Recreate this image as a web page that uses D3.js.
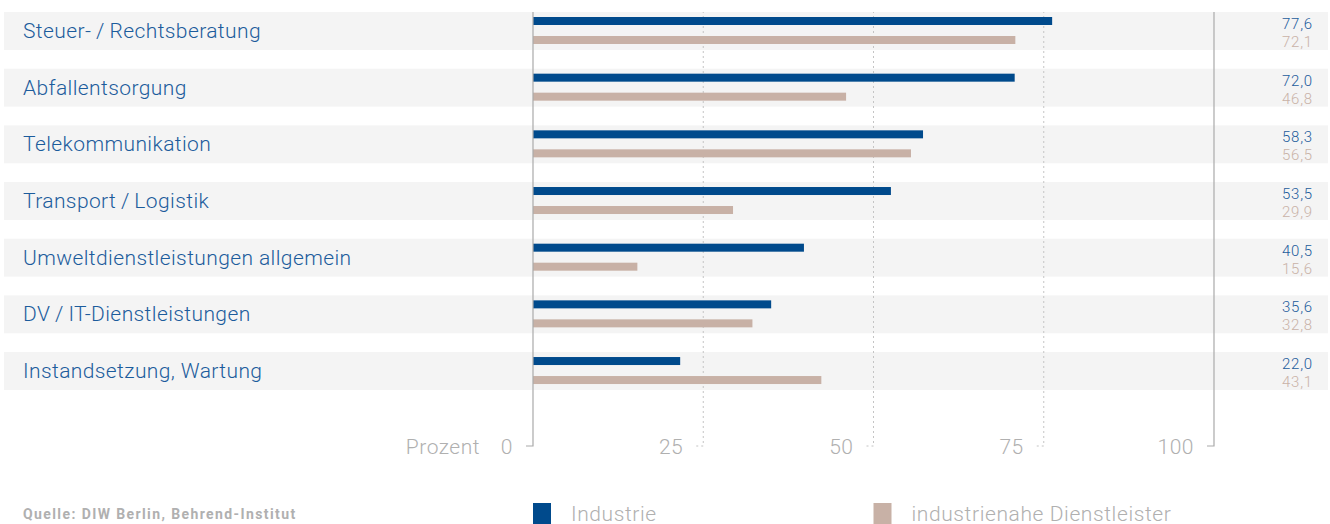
<!DOCTYPE html>
<html>
<head>
<meta charset="utf-8">
<script src="https://cdn.jsdelivr.net/npm/d3@7"></script>
<style>
  body { margin: 0; background: #fff; }
  svg { display: block; font-family: Roboto, "Open Sans", sans-serif; }
</style>
</head>
<body>
<div id="chart"></div>
<script>
var categories = [
    "Steuer-\u2009/\u2009Rechtsberatung",
    "Abfallentsorgung",
    "Telekommunikation",
    "Transport\u2009/\u2009Logistik",
    "Umweltdienstleistungen allgemein",
    "DV\u2009/\u2009IT-Dienstleistungen",
    "Instandsetzung, Wartung"
];
var industrie = [77.6, 72.0, 58.3, 53.5, 40.5, 35.6, 22.0];
var dienstleister = [72.1, 46.8, 56.5, 29.9, 15.6, 32.8, 43.1];
var ticks = [0, 25, 50, 75, 100];
var seriesNames = ["Industrie", "industrienahe Dienstleister"];
var source = "Quelle: DIW Berlin, Behrend-Institut";

var width = 1330,
    height = 524,
    blue = "#004a8c",
    beige = "#c8b1a6",
    grey = "#b0b0b0";

var svg = d3.select("#chart").append("svg")
    .attr("width", width)
    .attr("height", height);

// axis / grid scale
var x = d3.scaleLinear()
    .domain([0, 100])
    .range([533, 1214]);
// the bars in the original run a bit shorter than the grid
var xBar = d3.scaleLinear()
    .domain([0, 100])
    .range([533, 1202]);
var y = d3.scaleBand()
    .domain(categories)
    .range([12, 390])
    .paddingInner(0.33)
    .paddingOuter(0);

var rows = categories.map(function(c, i) {
    return {name: c, a: industrie[i], b: dienstleister[i]};
});

var fmt = function(v) { return v.toFixed(1).replace(".", ","); };

// row backgrounds
svg.selectAll(".rowBg")
    .data(rows)
    .enter().append("rect")
    .attr("class", "rowBg")
    .attr("x", 4)
    .attr("y", function(d) { return y(d.name); })
    .attr("width", 1324)
    .attr("height", y.bandwidth())
    .style("fill", "#f4f4f4");

var axisBottom = 446;

// dotted grid lines
svg.selectAll(".grid")
    .data(ticks.slice(1, -1))
    .enter().append("path")
    .attr("class", "grid")
    .attr("d", function(d) {
        return "M" + (x(d) - 7) + "," + axisBottom + "H" + x(d) + "V12";
    })
    .style("fill", "none")
    .style("stroke", "#c4c4c4")
    .style("stroke-width", 1)
    .style("stroke-dasharray", "2,3");

// bars
svg.selectAll(".barA")
    .data(rows)
    .enter().append("rect")
    .attr("class", "barA")
    .attr("x", xBar(0))
    .attr("y", function(d) { return y(d.name) + 5; })
    .attr("width", function(d) { return xBar(d.a) - xBar(0); })
    .attr("height", 8)
    .style("fill", blue);

svg.selectAll(".barB")
    .data(rows)
    .enter().append("rect")
    .attr("class", "barB")
    .attr("x", xBar(0))
    .attr("y", function(d) { return y(d.name) + 24; })
    .attr("width", function(d) { return xBar(d.b) - xBar(0); })
    .attr("height", 8)
    .style("fill", beige);

// solid lines at 0 and 100
svg.selectAll(".edge")
    .data([ticks[0], ticks[ticks.length - 1]])
    .enter().append("path")
    .attr("class", "edge")
    .attr("d", function(d) {
        return "M" + (x(d) - 7) + "," + axisBottom + "H" + x(d) + "V12";
    })
    .style("fill", "none")
    .style("stroke", "#aaaaaa")
    .style("stroke-width", 1.2);

// tick labels
svg.selectAll(".tickLabel")
    .data(ticks)
    .enter().append("text")
    .attr("class", "tickLabel")
    .attr("x", function(d) { return x(d) - 20; })
    .attr("y", axisBottom + 8)
    .attr("text-anchor", "end")
    .attr("font-size", 21)
    .attr("font-weight", 300)
    .attr("letter-spacing", 0.5)
    .style("fill", grey)
    .text(function(d) { return d; });

svg.append("text")
    .attr("x", 480)
    .attr("y", axisBottom + 8)
    .attr("text-anchor", "end")
    .attr("font-size", 21)
    .attr("font-weight", 300)
    .attr("letter-spacing", 0.5)
    .style("fill", grey)
    .text("Prozent");

// category labels
svg.selectAll(".catLabel")
    .data(rows)
    .enter().append("text")
    .attr("class", "catLabel")
    .attr("x", 23)
    .attr("y", function(d) { return y(d.name) + y.bandwidth() / 2 + 7; })
    .attr("font-size", 21)
    .attr("font-weight", 300)
    .attr("letter-spacing", 0.4)
    .style("fill", "#1c5c9c")
    .text(function(d) { return d.name; });

// value labels
svg.selectAll(".valA")
    .data(rows)
    .enter().append("text")
    .attr("class", "valA")
    .attr("x", 1313)
    .attr("y", function(d) { return y(d.name) + 17; })
    .attr("text-anchor", "end")
    .attr("font-size", 15)
    .attr("font-weight", 300)
    .attr("letter-spacing", 0.8)
    .style("fill", "#1c5c9c")
    .text(function(d) { return fmt(d.a); });

svg.selectAll(".valB")
    .data(rows)
    .enter().append("text")
    .attr("class", "valB")
    .attr("x", 1313)
    .attr("y", function(d) { return y(d.name) + 35; })
    .attr("text-anchor", "end")
    .attr("font-size", 15)
    .attr("font-weight", 300)
    .attr("letter-spacing", 0.8)
    .style("fill", "#c9b2a7")
    .text(function(d) { return fmt(d.b); });

// legend
var legend = svg.selectAll(".legend")
    .data(seriesNames)
    .enter().append("g")
    .attr("class", "legend")
    .attr("transform", function(d, i) {
        return "translate(" + x(i * 50) + ",503)";
    });
legend.append("rect")
    .attr("width", 18)
    .attr("height", 21)
    .style("fill", function(d, i) { return i ? beige : blue; });
legend.append("text")
    .attr("x", 38)
    .attr("y", 17.5)
    .attr("font-size", 21)
    .attr("font-weight", 300)
    .attr("letter-spacing", 0.6)
    .style("fill", grey)
    .text(function(d) { return d; });

svg.append("text")
    .attr("x", 23)
    .attr("y", 519)
    .attr("font-size", 14)
    .attr("font-weight", "bold")
    .attr("letter-spacing", 1.4)
    .style("fill", grey)
    .text(source);
</script>
</body>
</html>
